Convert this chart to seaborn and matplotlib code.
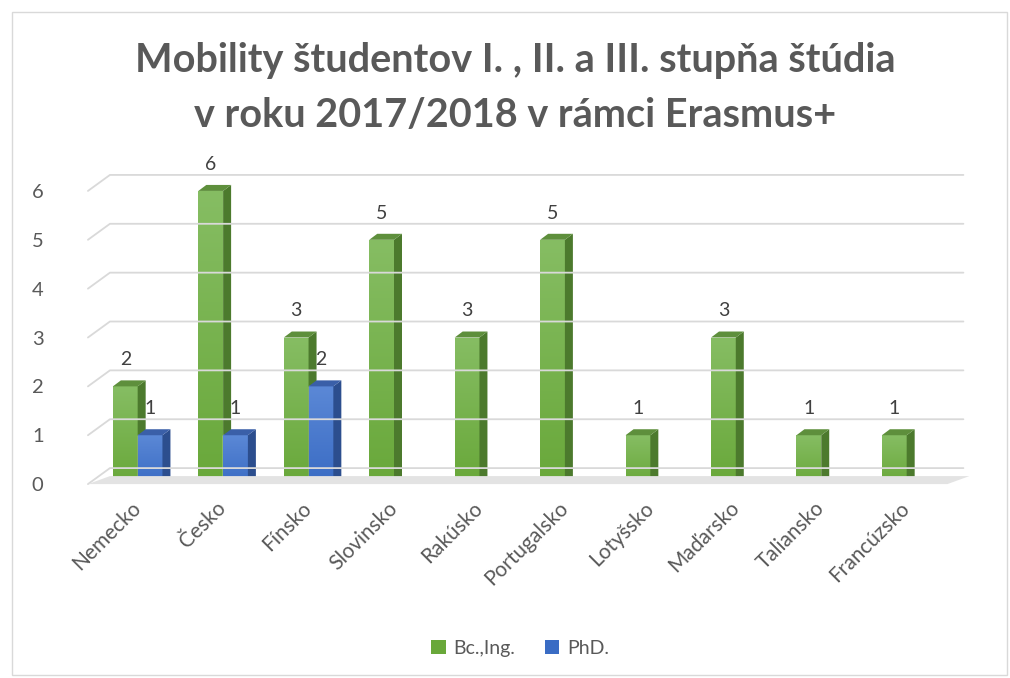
import numpy as np
import pandas as pd
import matplotlib
matplotlib.use("Agg")
import matplotlib.pyplot as plt
import seaborn as sns
from matplotlib.patches import Polygon, Rectangle
from matplotlib.colors import LinearSegmentedColormap

countries = ["Nemecko", "Česko", "Fínsko", "Slovinsko", "Rakúsko",
             "Portugalsko", "Lotyšsko", "Maďarsko", "Taliansko", "Francúzsko"]
bc_ing = [2, 6, 3, 5, 3, 5, 1, 3, 1, 1]
phd = [1, 1, 2, 0, 0, 0, 0, 0, 0, 0]
series = ["Bc.,Ing.", "PhD."]
yticks = [0, 1, 2, 3, 4, 5, 6]

title = "Mobility študentov I. , II. a III. stupňa štúdia\nv roku 2017/2018 v rámci Erasmus+"

df = pd.DataFrame({
    "country": countries * 2,
    "series": [series[0]] * len(countries) + [series[1]] * len(countries),
    "value": bc_ing + phd,
})

front = {"Bc.,Ing.": ("#86BD63", "#69A83A"), "PhD.": ("#5B88D6", "#3A6CC4")}
side = {"Bc.,Ing.": "#4C7A2D", "PhD.": "#2C4E8E"}
topc = {"Bc.,Ing.": "#5E8F3C", "PhD.": "#3A5FA8"}

sns.set_theme(style="white")
plt.rcParams["font.family"] = ["Lato", "DejaVu Sans"]
grey = "#595959"

fig = plt.figure(figsize=(10.1, 6.78), dpi=100)
ax = fig.add_axes([0.094, 0.286, 0.846, 0.454])

sns.barplot(data=df, x="country", y="value", hue="series",
            palette=[front[s][1] for s in series], width=0.58,
            dodge=True, ax=ax, legend=False, saturation=1)

ax.set_xlim(-0.5, len(countries) - 0.5)
ax.set_ylim(0, 6.3)
ax.set_yticks(yticks)
ax.set_xlabel("")
ax.set_ylabel("")
for sp in ax.spines.values():
    sp.set_visible(False)
ax.tick_params(axis="y", length=0, pad=37, labelsize=14.5, labelcolor=grey)
ax.tick_params(axis="x", length=0, pad=15, labelsize=15, labelcolor=grey)
plt.setp(ax.get_xticklabels(), rotation=45, ha="right", va="center",
         rotation_mode="anchor")

fig.canvas.draw()
T = ax.transData
gdx, gdy = 22, 16   # back-wall depth in px
bdx, bdy = 8, 6     # bar depth in px

# gridlines in perspective
for yv in yticks:
    p0 = T.transform((-0.5, yv)) + np.array([-7, 0])
    p1 = p0 + np.array([gdx, gdy])
    p2 = T.transform((len(countries) - 0.5, yv)) + np.array([gdx - 8, gdy])
    ln = plt.Line2D([p0[0], p1[0], p2[0]], [p0[1], p1[1], p2[1]],
                    transform=None, color="#D9D9D9", lw=1.3, zorder=0.5)
    fig.add_artist(ln)

# floor shadow
f0 = T.transform((-0.5, 0)) + np.array([-7, 0])
f1 = T.transform((len(countries) - 0.5, 0)) + np.array([-2, 0])
floor = Polygon([f0, f1, f1 + [gdx, gdy * 0.5], f0 + [gdx, gdy * 0.5]],
                closed=True, transform=None, facecolor="#E3E3E3",
                edgecolor="none", zorder=0.6)
fig.add_artist(floor)

# 3D faces and gradients
for k, (cont, s) in enumerate(zip(ax.containers, series)):
    cmap = LinearSegmentedColormap.from_list(s, [front[s][1], front[s][0]])
    zb = 2 + 2 * k
    for bar in cont:
        h = bar.get_height()
        if h <= 0:
            bar.set_visible(False)
            continue
        bar.set_zorder(zb)
        x, w = bar.get_x(), bar.get_width()
        br = T.transform((x + w, 0))
        tl = T.transform((x, h)); tr = T.transform((x + w, h))
        d = np.array([bdx, bdy])
        ax.add_patch(Polygon([br, tr, tr + d, br + d], closed=True,
                             transform=None, facecolor=side[s],
                             edgecolor="none", zorder=zb + 1))
        ax.add_patch(Polygon([tl, tr, tr + d, tl + d], closed=True,
                             transform=None, facecolor=topc[s],
                             edgecolor="none", zorder=zb + 1))
        grad = np.linspace(0, 1, 100).reshape(-1, 1)
        im = ax.imshow(grad, cmap=cmap, origin="lower", aspect="auto",
                       extent=(x, x + w, 0, h), zorder=zb + 0.5)
        im.set_clip_path(bar)
    ax.set_xlim(-0.5, len(countries) - 0.5)
    ax.set_ylim(0, 6.3)

# data labels
for cont, vals in zip(ax.containers, [bc_ing, phd]):
    labels = [str(v) if v > 0 else "" for v in vals]
    txts = ax.bar_label(cont, labels=labels, padding=13, fontsize=14, color="#404040")
    for t in txts:
        t.set_zorder(10)

fig.text(0.51, 0.8705, title, ha="center", va="center", fontsize=28.5,
         fontweight="bold", color=grey, linespacing=1.58)

handles = [Rectangle((0, 0), 1, 1, facecolor=front[s][1], edgecolor="none") for s in series]
fig.legend(handles, series, loc="center", bbox_to_anchor=(0.515, 0.044), ncol=2,
           frameon=False, fontsize=14, labelcolor=grey, handlelength=0.75,
           handleheight=0.75, handletextpad=0.4, columnspacing=1.5)

fig.add_artist(Rectangle((0.012, 0.005), 0.985, 0.978, transform=fig.transFigure,
                         fill=False, edgecolor="#D9D9D9", lw=1))

fig.savefig("out.png", dpi=100)
